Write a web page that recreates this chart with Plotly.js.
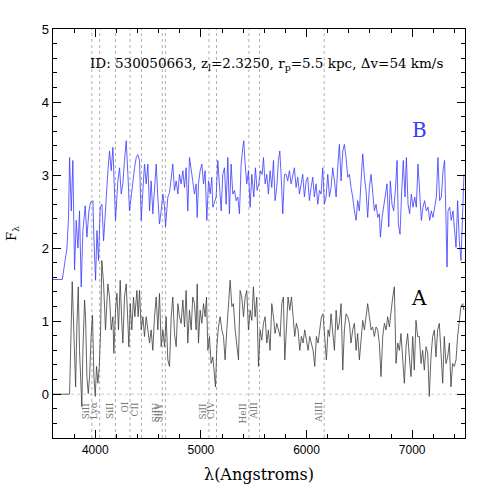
<!DOCTYPE html>
<html>
<head>
<meta charset="utf-8">
<script src="https://cdn.plot.ly/plotly-3.0.1.min.js"></script>
<style>
  html, body { margin: 0; padding: 0; background: #fff; }
  #plot { width: 491px; height: 491px; }
</style>
</head>
<body>
<div id="plot"></div>
<script>
// spectrum B (upper, blue)
var lamB = [3600,3688,3732,3747,3757,3773,3788,3804,3820,3836,3851,3867,3883,3905,3921,3940,3956,3978,3987,4003,
  4016,4031,4047,4063,4079,4097,4120,4135,4151,4167,4183,4192,4214,4230,4246,4261,4277,4293,4309,4324,
  4340,4356,4372,4388,4403,4419,4435,4451,4466,4482,4498,4514,4529,4545,4561,4577,4592,4608,4624,4640,
  4656,4665,4687,4703,4734,4750,4766,4782,4797,4813,4829,4845,4860,4876,4892,4908,4923,
  4939,4955,4965,4977,4993,5009,5025,5040,5056,5072,5088,5103,5113,5129,5144,5160,5176,5192,5207,5223,
  5239,5255,5270,5286,5302,5318,5334,5349,5365,5381,5397,5406,5419,5434,5450,5466,5482,5501,5516,5532,
  5548,5564,5580,5592,5608,5624,5639,5655,5671,5687,5702,5718,5734,5747,5759,5775,5791,5807,5822,5838,
  5854,5870,5885,5901,5917,5933,5948,5964,5980,5996,6011,6027,6043,6059,6074,6090,6106,6122,6138,6153,
  6169,6185,6201,
  6217,6232,6248,6264,6280,6295,6311,6327,6343,6358,6374,6390,6406,6421,6437,6453,6469,6484,6500,6516,
  6532,6548,6563,6579,6595,6611,6626,6642,6658,6674,6689,6699,6715,6730,6746,6762,6778,6793,6809,6825,
  6841,6857,6869,6885,6901,6916,6932,6945,6961,6976,6992,7008,7024,7039,7055,7071,7087,7102,7118,7134,
  7150,7166,7181,7197,7213,7229,7244,7260,7276,7292,7307,7320,7330,7339,7355,7370,7386,7402,7415,7430,
  7446,7462,7478,7490];
var fluxB = [1.57,1.57,2.0,2.42,3.24,2.51,3.2,1.7,2.38,2.0,2.51,1.47,2.24,2.58,2.15,2.51,2.63,2.65,2.15,1.56,
  2.24,1.83,2.56,2.6,2.1,2.6,3.06,3.33,3.06,3.38,2.83,2.38,2.92,3.1,2.74,2.88,3.2,3.47,3.01,2.51,
  2.7,2.92,3.1,3.24,3.28,3.2,2.38,2.79,3.15,2.88,3.15,2.51,2.92,2.47,2.79,3.15,2.7,2.33,2.51,2.74,
  2.56,2.29,2.7,2.76,3.15,2.79,2.92,2.74,3.01,2.88,3.06,2.83,3.1,2.51,3.24,3.1,2.92,
  2.74,2.88,2.42,2.88,3.06,3.15,2.88,3.06,2.38,2.92,2.74,2.97,2.56,2.65,2.7,3.2,2.79,2.51,3.01,3.1,
  2.6,3.24,2.47,3.15,2.74,2.79,2.65,2.7,2.47,3.15,3.38,3.47,3.15,2.88,3.06,2.56,3.01,2.7,3.1,2.79,
  2.88,3.06,3.01,3.24,2.88,3.01,2.74,3.06,2.83,3.2,2.65,2.83,3.2,3.33,3.01,2.47,3.01,3.01,2.92,3.06,
  2.88,3.01,3.1,2.83,2.97,2.74,2.88,3.01,2.7,2.92,2.97,2.65,2.83,2.97,2.7,2.88,2.6,2.79,2.74,3.1,
  2.6,2.7,3.01,
  2.7,2.83,3.1,2.92,2.7,3.1,3.42,2.92,3.33,3.42,3.24,2.97,3.01,2.83,2.7,2.51,2.38,2.65,2.51,2.92,
  3.29,2.97,2.79,2.42,2.83,3.01,2.7,2.51,2.6,2.42,2.47,2.15,2.42,2.56,2.7,2.88,2.29,2.92,2.6,2.51,
  2.79,3.2,2.33,2.19,2.79,3.2,2.7,3.24,2.6,2.47,2.74,2.56,2.7,2.56,3.15,2.7,2.38,2.56,2.65,2.51,
  2.56,2.38,2.51,2.42,2.56,2.7,3.24,2.65,2.7,3.06,3.2,2.42,1.74,2.51,2.56,2.38,2.51,2.24,2.01,2.65,
  2.1,1.83,2.47,3.01];

// spectrum A (lower, grey)
var lamA = [3600,3757,3782,3795,3814,3826,3839,3851,3864,3873,3883,3899,3908,3921,3934,3946,3962,3974,3987,4000,
  4012,4025,4038,4050,4062,4079,4097,4104,4119,4135,4151,4167,4176,4192,4205,4220,4236,4249,4261,4277,
  4293,4309,4318,4331,4346,4362,4375,4394,4406,4419,4435,4451,4466,4482,4498,4514,4529,4545,4561,4577,
  4592,4608,4624,4640,4656,4671,4687,4703,4719,4734,4750,4766,4782,4797,4813,4829,4845,4860,4876,4892,
  4908,4923,
  4939,4955,4965,4977,4993,5009,5025,5040,5053,5066,5081,5097,5113,5129,5138,5151,5166,5182,5198,5214,
  5229,5245,5261,5277,5293,5308,5324,5340,5356,5371,5387,5403,5419,5434,5450,5466,5482,5497,5513,5529,
  5545,5561,5576,5592,5608,5624,5639,5655,5671,5687,5702,5718,5734,5750,5766,5781,5794,5810,5825,5841,
  5857,5873,5888,5904,5920,5936,5952,5967,5983,5999,6015,6030,6046,6062,6078,6093,6109,6125,6141,6156,
  6172,6188,6204,
  6217,6232,6248,6264,6280,6295,6311,6327,6343,6358,6374,6390,6406,6421,6437,6453,6469,6484,6500,6516,
  6532,6548,6563,6579,6595,6611,6626,6642,6658,6674,6689,6705,6721,6737,6753,6768,6784,6800,6816,6831,
  6847,6863,6879,6894,6910,6926,6942,6957,6973,6989,7005,7020,7036,7052,7068,7084,7099,7115,7131,7147,
  7162,7178,7194,7210,7225,7241,7257,7273,7289,7304,7320,7336,7352,7367,7383,7399,7415,7430,7446,7462,
  7478,7490];
var fluxA = [0,0,1.54,1.06,0.1,0.92,1.47,0.6,-0.03,-0.17,0.6,1.29,1.06,0.24,0.01,0.24,0.83,1.08,0.24,-0.03,
  0.38,0.15,0.38,0.83,1.83,1.51,0.88,1.06,1.51,1.33,0.88,1.06,0.56,1.15,1.38,0.88,1.56,1.06,0.7,1.33,
  1.51,0.97,0.65,1.24,0.88,1.33,1.06,1.42,1.06,1.42,0.88,1.06,0.79,1.06,0.88,0.7,0.88,0.6,1.06,1.33,
  0.88,1.38,0.65,0.88,0.65,1.06,0.47,0.38,1.06,1.33,0.83,0.65,1.24,1.06,0.97,1.29,0.92,1.42,0.7,1.15,
  0.88,1.33,
  1.24,0.88,1.51,0.7,1.15,0.97,1.24,1.06,1.33,0.6,0.79,0.42,0.51,0.24,0.1,0.65,0.92,1.06,0.88,0.79,
  0.47,0.88,1.24,1.56,1.2,1.24,0.88,0.65,0.47,1.42,1.33,1.06,1.33,1.42,0.88,1.15,1.01,1.47,1.06,1.33,
  0.38,0.88,0.74,0.97,1.06,0.7,0.88,0.6,1.24,1.06,0.83,0.97,0.88,0.79,1.24,1.33,0.47,0.97,1.33,1.15,
  1.33,1.06,0.79,0.97,0.88,0.6,0.79,0.7,0.88,0.74,0.6,0.79,0.7,0.6,0.38,0.79,0.7,0.88,1.06,1.1,
  0.7,0.47,0.88,
  0.79,1.1,0.88,0.6,1.15,0.88,0.97,1.24,0.33,0.88,1.1,1.06,0.97,0.7,0.88,0.97,0.6,0.83,0.47,0.79,
  1.01,0.88,1.06,1.24,1.06,0.88,0.92,0.79,0.92,0.88,0.7,0.24,0.79,0.97,0.88,1.06,0.92,1.15,1.33,1.47,
  0.42,0.7,0.6,0.83,0.51,0.15,0.65,0.83,0.51,0.24,0.79,0.33,1.01,0.79,0.79,0.42,0.6,0.33,0.65,0.56,
  -0.03,0.51,0.79,0.88,0.51,0.88,0.97,0.51,0.15,0.79,0.42,0.51,0.7,0.1,0.42,0.38,0.47,0.79,0.97,1.2,
  1.24,1.15];

// absorption line identifications
var zAbs = 2.325;
var lineNames = ['SiII', 'Lyα', 'SiII', 'OI', 'CII', 'SiIV', 'SiIV', 'SiII', 'CIV', 'HeII', 'AlII', 'AlIII'];
var lineRest = [1193.29, 1215.67, 1260.42, 1302.17, 1334.53, 1393.76, 1402.77, 1526.71, 1548.20, 1640.42, 1670.79, 1854.72];

var titleText = 'ID: 530050663, z<sub>l</sub>=2.3250, r<sub>p</sub>=5.5 kpc, Δv=54 km/s';

var serif = 'DejaVu Serif, serif';

var traces = [
  {x: lamB, y: fluxB, type: 'scatter', mode: 'lines', name: 'B',
   line: {color: '#3a3aff', width: 0.8}, hoverinfo: 'skip'},
  {x: lamA, y: fluxA, type: 'scatter', mode: 'lines', name: 'A',
   line: {color: '#3c3c3c', width: 0.8}, hoverinfo: 'skip'}
];

var shapes = [{
  type: 'line', xref: 'paper', yref: 'y', x0: 0, x1: 1, y0: 0, y1: 0,
  line: {color: '#c0c0c0', width: 0.8, dash: 'dot'}, layer: 'below'
}];
var annotations = [];
lineRest.forEach(function (rest, i) {
  var obs = rest * (1 + zAbs);
  shapes.push({
    type: 'line', xref: 'x', yref: 'paper', x0: obs, x1: obs, y0: 0, y1: 1,
    line: {color: '#9a9a9a', width: 0.8, dash: 'dot'}, layer: 'below'
  });
  annotations.push({
    x: obs, y: -0.08, xref: 'x', yref: 'y', text: lineNames[i], textangle: -90,
    showarrow: false, xanchor: 'right', yanchor: 'top', xshift: 1,
    font: {family: serif, size: 9, color: '#777'}
  });
});

annotations.push({
  x: 0.519, y: 4.52, xref: 'paper', yref: 'y', text: titleText, showarrow: false,
  font: {family: serif, size: 13.5, color: '#000'}
});
annotations.push({
  x: 7068, y: 3.62, xref: 'x', yref: 'y', text: 'B', showarrow: false,
  font: {family: serif, size: 20, color: '#3a3aff'}
});
annotations.push({
  x: 7068, y: 1.32, xref: 'x', yref: 'y', text: 'A', showarrow: false,
  font: {family: serif, size: 20, color: '#000'}
});

var layout = {
  width: 491, height: 491,
  margin: {l: 53, r: 26, t: 29, b: 53},
  paper_bgcolor: '#fff', plot_bgcolor: '#fff',
  showlegend: false,
  xaxis: {
    range: [3600, 7500], showgrid: false, zeroline: false,
    showline: true, linecolor: '#000', linewidth: 1.3, mirror: 'ticks',
    ticks: 'inside', ticklen: 8, tickwidth: 1, tickcolor: '#000',
    tick0: 0, dtick: 1000,
    minor: {dtick: 200, ticks: 'inside', ticklen: 4, tickcolor: '#000', tickwidth: 1},
    tickfont: {family: 'Liberation Sans, Arial, sans-serif', size: 12, color: '#000'},
    title: {text: 'λ(Angstroms)', standoff: 13, font: {family: serif, size: 16, color: '#000'}}
  },
  yaxis: {
    range: [-0.6, 5], showgrid: false, zeroline: false,
    showline: true, linecolor: '#000', linewidth: 1.3, mirror: 'ticks',
    ticks: 'inside', ticklen: 8, tickwidth: 1, tickcolor: '#000',
    tick0: 0, dtick: 1,
    minor: {dtick: 0.2, ticks: 'inside', ticklen: 4, tickcolor: '#000', tickwidth: 1},
    tickfont: {family: 'Liberation Sans, Arial, sans-serif', size: 13, color: '#000'},
    title: {text: 'F<sub>λ</sub>', standoff: 22, font: {family: serif, size: 13, color: '#000'}}
  },
  shapes: shapes,
  annotations: annotations
};

Plotly.newPlot('plot', traces, layout, {displayModeBar: false, staticPlot: true});
</script>
</body>
</html>
